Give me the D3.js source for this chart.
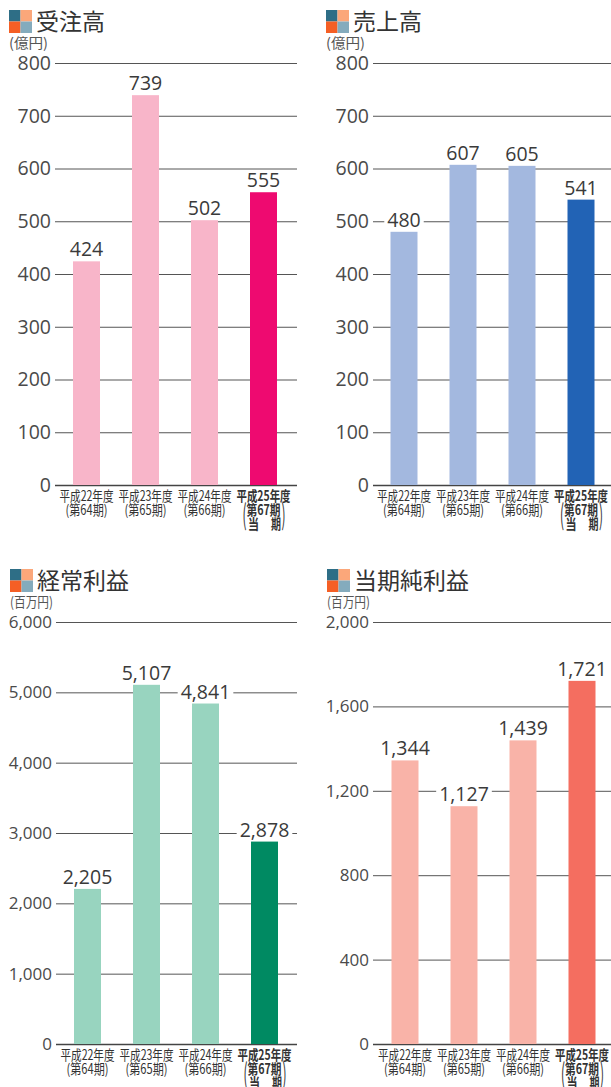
<!DOCTYPE html>
<meta charset="utf-8">
<style>
    html, body { margin:0; padding:0; background:#fff; overflow:hidden; }
    svg { display:block; }
    .num { font-family:'Open Sans'; fill:#3a3a3a; }
    .jp { font-family:'Noto Sans CJK JP'; fill:#333; }
</style>
<body>
<script src="https://cdn.jsdelivr.net/npm/d3@7"></script>
<script>
var width = 611, height = 1087;

var years = ['平成22年度', '平成23年度', '平成24年度', '平成25年度'];
var terms = ['(第64期)', '(第65期)', '(第66期)', '第67期'];

var orders = [424, 739, 502, 555];
var sales = [480, 607, 605, 541];
var ordinary = [2205, 5107, 4841, 2878];
var netIncome = [1344, 1127, 1439, 1721];

var ticksOku = [0, 100, 200, 300, 400, 500, 600, 700, 800];
var ticksOrdinary = [0, 1000, 2000, 3000, 4000, 5000, 6000];
var ticksNet = [0, 400, 800, 1200, 1600, 2000];

var svg = d3.select('body').append('svg')
    .attr('width', width)
    .attr('height', height);

var panels = [
    {title:'受注高', unit:'(億円)', values:orders, ticks:ticksOku, x:9, top:63, bottom:485, left:55, right:297, first:73, pale:'#f8b5c9', strong:'#ee0a70', tickSize:19.5, fmt:d3.format('d')},
    {title:'売上高', unit:'(億円)', values:sales, ticks:ticksOku, x:326, top:63, bottom:485, left:373, right:611, first:390.5, pale:'#a3b8df', strong:'#2263b5', tickSize:19.5, fmt:d3.format('d')},
    {title:'経常利益', unit:'(百万円)', values:ordinary, ticks:ticksOrdinary, x:10, top:622, bottom:1044, left:56, right:297, first:74, pale:'#98d4bf', strong:'#008a62', tickSize:17, fmt:d3.format(',')},
    {title:'当期純利益', unit:'(百万円)', values:netIncome, ticks:ticksNet, x:327, top:622, bottom:1044, left:373, right:611, first:391.5, pale:'#f9b3a8', strong:'#f46e60', tickSize:17, fmt:d3.format(',')}
];

function squeezed(g, str, x, y, len, size, bold) {
    return g.append('text')
        .attr('class', 'jp')
        .attr('x', x)
        .attr('y', y)
        .attr('text-anchor', 'middle')
        .attr('textLength', len)
        .attr('lengthAdjust', 'spacingAndGlyphs')
        .style('font-size', size + 'px')
        .style('font-weight', bold ? 700 : 400)
        .text(str);
}

panels.forEach(function(p) {
    var g = svg.append('g');
    var titleTop = p.top - 53;

    // heading icon
    var cells = [[0, 0, '#2e6e86'], [1, 0, '#fba77a'], [0, 1, '#f55f25'], [1, 1, '#84abbd']];
    g.selectAll('rect.icon').data(cells).enter().append('rect')
        .attr('class', 'icon')
        .attr('x', function(d) { return p.x + d[0] * 11.5; })
        .attr('y', function(d) { return titleTop + d[1] * 11.5; })
        .attr('width', 11.5)
        .attr('height', 11.5)
        .attr('fill', function(d) { return d[2]; });

    g.append('text')
        .attr('class', 'jp')
        .attr('x', p.x + 27)
        .attr('y', titleTop + 19.5)
        .style('font-size', '23px')
        .text(p.title);

    g.append('text')
        .attr('class', 'jp')
        .attr('x', p.x)
        .attr('y', titleTop + 38)
        .attr('textLength', p.unit.length > 4 ? 43 : 39)
        .attr('lengthAdjust', 'spacingAndGlyphs')
        .style('font-size', '14px')
        .style('fill', '#555')
        .text(p.unit);

    var y = d3.scaleLinear()
        .domain(d3.extent(p.ticks))
        .range([p.bottom, p.top]);

    var x = d3.scaleBand()
        .domain(years)
        .range([p.first, p.first + 204])
        .paddingInner(32 / 59);

    var axis = d3.axisLeft(y)
        .tickValues(p.ticks)
        .tickFormat(p.fmt)
        .tickSize(0)
        .tickPadding(4);

    var ax = g.append('g')
        .attr('transform', 'translate(' + p.left + ',0)')
        .call(axis);
    ax.select('.domain').remove();
    ax.selectAll('.tick text')
        .attr('class', 'num')
        .style('font-family', "'Open Sans'")
        .style('font-size', p.tickSize + 'px')
        .style('fill', '#4a4a4a');
    ax.selectAll('.tick').append('line')
        .attr('x1', 0)
        .attr('x2', p.right - p.left)
        .attr('stroke', function(d) { return d === 0 ? '#444' : '#555'; })
        .attr('stroke-width', function(d, i) { return d === 0 ? 1.4 : 1; });

    // white boxes go under the bars, they only break the grid lines
    var knock = g.append('g');

    g.selectAll('rect.bar').data(p.values).enter().append('rect')
        .attr('class', 'bar')
        .attr('x', function(d, i) { return x(years[i]); })
        .attr('y', function(d) { return y(d); })
        .attr('width', x.bandwidth())
        .attr('height', function(d) { return p.bottom - y(d); })
        .attr('fill', function(d, i) { return i === 3 ? p.strong : p.pale; });

    g.selectAll('text.val').data(p.values).enter().append('text')
        .attr('class', 'num val')
        .attr('x', function(d, i) { return x(years[i]) + x.bandwidth() / 2; })
        .attr('y', function(d) { return y(d) - 5; })
        .attr('text-anchor', 'middle')
        .style('font-size', '19.5px')
        .text(function(d) { return d3.format(',')(d); })
        .each(function() {
            // box only as tall as the digits, not the full line box
            var b = this.getBBox();
            knock.append('rect')
                .attr('x', b.x - 3)
                .attr('y', b.y + 6)
                .attr('width', b.width + 6)
                .attr('height', b.height - 10)
                .attr('fill', '#fff');
        });

    years.forEach(function(yr, i) {
        var cx = x(yr) + x.bandwidth() / 2;
        var last = i === 3;
        squeezed(g, yr, cx, p.bottom + 16, 54, 14, last);
        if (!last) {
            squeezed(g, terms[i], cx, p.bottom + 30, 42, 14, false);
        } else {
            squeezed(g, terms[i], cx, p.bottom + 30, 34, 14, true);
            squeezed(g, '当', cx - 10, p.bottom + 44, 11, 14, true);
            squeezed(g, '期', cx + 12.5, p.bottom + 44, 10, 14, true);
            squeezed(g, '(', cx - 19, p.bottom + 40, 4, 28, false);
            squeezed(g, ')', cx + 20, p.bottom + 40, 4, 28, false);
        }
    });
});
</script>
</body>
